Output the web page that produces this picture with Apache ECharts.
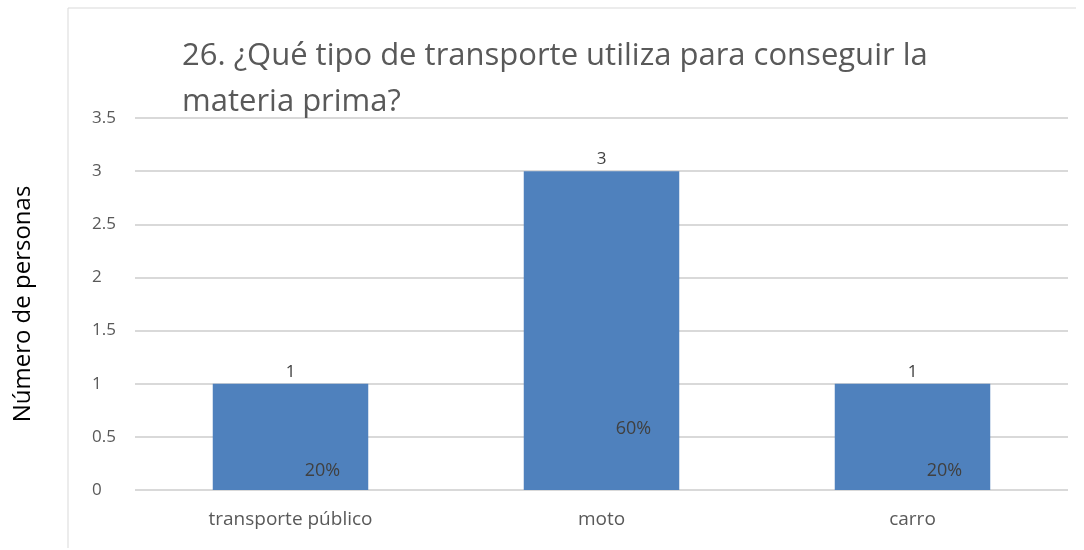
<!DOCTYPE html>
<html>
<head>
<meta charset="utf-8">
<script src="https://cdn.jsdelivr.net/npm/echarts@6/dist/echarts.min.js"></script>
<style>
  html, body { margin: 0; padding: 0; background: #fff; }
  #chart { width: 1084px; height: 550px; }
</style>
</head>
<body>
<div id="chart"></div>
<script>
// 数据
const categories = ['transporte público', 'moto', 'carro'];
const personas = [1, 3, 1];
const porcentajes = ['20%', '60%', '20%'];
const percentLift = [5, 47, 5]; // how far up the % label sits inside the bar

const chart = echarts.init(document.getElementById('chart'));

const option = {
    animation: false,
    backgroundColor: '#fff',
    title: {
        text: '26. ¿Qué tipo de transporte utiliza para conseguir la\nmateria prima?',
        left: 177,
        top: 28,
        textStyle: {
            fontFamily: 'Open Sans',
            fontWeight: 'normal',
            fontSize: 31,
            lineHeight: 46,
            color: '#595959'
        }
    },
    graphic: [{
        type: 'polyline',
        shape: { points: [[68, 548], [68, 8], [1076, 8]] },
        style: { stroke: '#d9d9d9', lineWidth: 1, fill: null }
    }],
    grid: { left: 135, right: 16, top: 118, bottom: 60 },
    xAxis: {
        type: 'category',
        data: categories,
        axisLine: { show: false },
        axisTick: { show: false },
        axisLabel: {
            margin: 20,
            fontFamily: 'Open Sans',
            fontSize: 19,
            color: '#595959'
        }
    },
    yAxis: {
        type: 'value',
        min: 0,
        max: 3.5,
        interval: 0.5,
        name: 'Número de personas',
        nameLocation: 'middle',
        nameGap: 100,
        nameTextStyle: {
            fontFamily: 'Open Sans',
            fontSize: 24,
            color: '#000'
        },
        axisLabel: {
            margin: 43,
            align: 'left',
            fontFamily: 'Open Sans',
            fontSize: 17,
            color: '#595959'
        },
        splitLine: { lineStyle: { color: '#d9d9d9', width: 2 } }
    },
    series: [
        {
            type: 'bar',
            data: personas,
            barWidth: '50%',
            itemStyle: { color: '#4f81bd' },
            label: {
                show: true,
                position: 'top',
                distance: 3,
                fontFamily: 'Open Sans',
                fontSize: 17,
                color: '#404040'
            }
        },
        {
            type: 'bar',
            barGap: '-100%',
            barWidth: '50%',
            data: personas.map((v, i) => ({
                value: v,
                label: { offset: [32, -percentLift[i]] }
            })),
            itemStyle: { color: 'transparent' },
            label: {
                show: true,
                position: 'insideBottom',
                formatter: p => porcentajes[p.dataIndex],
                fontFamily: 'Open Sans',
                fontSize: 18,
                color: '#404040'
            }
        }
    ]
};

chart.setOption(option);
</script>
</body>
</html>
